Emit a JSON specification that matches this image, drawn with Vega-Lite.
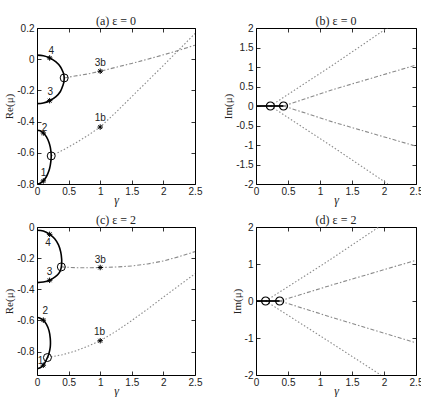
{
  "$schema": "https://vega.github.io/schema/vega-lite/v6.json",
  "padding": {"left": 3, "top": 14, "right": 0, "bottom": 0},
  "background": "white",
  "config": {
    "view": {"stroke": "#000", "strokeWidth": 1},
    "axis": {
      "grid": false, "domain": false, "minExtent": 0, "labelFlush": false,
      "tickSize": -4, "tickColor": "#000", "tickWidth": 0.8,
      "labelFont": "Liberation Sans", "labelFontSize": 10, "labelColor": "#222",
      "labelExpr": "replace(datum.label, '\u2212', '-')",
      "titleFont": "Liberation Serif", "titleFontSize": 12, "titleFontWeight": "normal", "titleColor": "#222"
    },
    "title": {"font": "Liberation Serif", "fontSize": 12, "fontWeight": "normal", "color": "#222", "offset": -5}
  },
  "datasets": {
    "crv": [
      {"p": "a", "s": "a1", "k": "solid", "g": 0, "v": 0.026},
      {"p": "a", "s": "a1", "k": "solid", "g": 0.1, "v": 0.022},
      {"p": "a", "s": "a1", "k": "solid", "g": 0.2, "v": 0.008},
      {"p": "a", "s": "a1", "k": "solid", "g": 0.3, "v": -0.017},
      {"p": "a", "s": "a1", "k": "solid", "g": 0.37, "v": -0.048},
      {"p": "a", "s": "a1", "k": "solid", "g": 0.41, "v": -0.08},
      {"p": "a", "s": "a1", "k": "solid", "g": 0.425, "v": -0.1},
      {"p": "a", "s": "a1", "k": "solid", "g": 0.43, "v": -0.12},
      {"p": "a", "s": "a1", "k": "solid", "g": 0.425, "v": -0.145},
      {"p": "a", "s": "a1", "k": "solid", "g": 0.41, "v": -0.168},
      {"p": "a", "s": "a1", "k": "solid", "g": 0.37, "v": -0.207},
      {"p": "a", "s": "a1", "k": "solid", "g": 0.3, "v": -0.24},
      {"p": "a", "s": "a1", "k": "solid", "g": 0.2, "v": -0.266},
      {"p": "a", "s": "a1", "k": "solid", "g": 0.1, "v": -0.281},
      {"p": "a", "s": "a1", "k": "solid", "g": 0, "v": -0.285},

      {"p": "a", "s": "a2", "k": "solid", "g": 0, "v": -0.455},
      {"p": "a", "s": "a2", "k": "solid", "g": 0.05, "v": -0.459},
      {"p": "a", "s": "a2", "k": "solid", "g": 0.1, "v": -0.473},
      {"p": "a", "s": "a2", "k": "solid", "g": 0.15, "v": -0.498},
      {"p": "a", "s": "a2", "k": "solid", "g": 0.19, "v": -0.534},
      {"p": "a", "s": "a2", "k": "solid", "g": 0.21, "v": -0.564},
      {"p": "a", "s": "a2", "k": "solid", "g": 0.22, "v": -0.59},
      {"p": "a", "s": "a2", "k": "solid", "g": 0.225, "v": -0.62},
      {"p": "a", "s": "a2", "k": "solid", "g": 0.22, "v": -0.652},
      {"p": "a", "s": "a2", "k": "solid", "g": 0.21, "v": -0.68},
      {"p": "a", "s": "a2", "k": "solid", "g": 0.19, "v": -0.714},
      {"p": "a", "s": "a2", "k": "solid", "g": 0.15, "v": -0.752},
      {"p": "a", "s": "a2", "k": "solid", "g": 0.1, "v": -0.78},
      {"p": "a", "s": "a2", "k": "solid", "g": 0.05, "v": -0.795},
      {"p": "a", "s": "a2", "k": "solid", "g": 0, "v": -0.8},

      {"p": "a", "s": "a3", "k": "dashdot", "g": 0.43, "v": -0.12},
      {"p": "a", "s": "a3", "k": "dashdot", "g": 0.6, "v": -0.108},
      {"p": "a", "s": "a3", "k": "dashdot", "g": 0.8, "v": -0.095},
      {"p": "a", "s": "a3", "k": "dashdot", "g": 1, "v": -0.077},
      {"p": "a", "s": "a3", "k": "dashdot", "g": 1.25, "v": -0.052},
      {"p": "a", "s": "a3", "k": "dashdot", "g": 1.5, "v": -0.027},
      {"p": "a", "s": "a3", "k": "dashdot", "g": 1.75, "v": 0.0},
      {"p": "a", "s": "a3", "k": "dashdot", "g": 2, "v": 0.028},
      {"p": "a", "s": "a3", "k": "dashdot", "g": 2.25, "v": 0.058},
      {"p": "a", "s": "a3", "k": "dashdot", "g": 2.5, "v": 0.09},

      {"p": "a", "s": "a4", "k": "dot", "g": 0.225, "v": -0.62},
      {"p": "a", "s": "a4", "k": "dot", "g": 0.4, "v": -0.585},
      {"p": "a", "s": "a4", "k": "dot", "g": 0.6, "v": -0.54},
      {"p": "a", "s": "a4", "k": "dot", "g": 0.8, "v": -0.49},
      {"p": "a", "s": "a4", "k": "dot", "g": 1, "v": -0.435},
      {"p": "a", "s": "a4", "k": "dot", "g": 1.25, "v": -0.34},
      {"p": "a", "s": "a4", "k": "dot", "g": 1.5, "v": -0.24},
      {"p": "a", "s": "a4", "k": "dot", "g": 1.75, "v": -0.14},
      {"p": "a", "s": "a4", "k": "dot", "g": 2, "v": -0.04},
      {"p": "a", "s": "a4", "k": "dot", "g": 2.25, "v": 0.062},
      {"p": "a", "s": "a4", "k": "dot", "g": 2.5, "v": 0.165},

      {"p": "b", "s": "b0", "k": "solid", "g": 0, "v": 0},
      {"p": "b", "s": "b0", "k": "solid", "g": 0.43, "v": 0},
      {"p": "b", "s": "b1", "k": "dot", "g": 0.225, "v": 0},
      {"p": "b", "s": "b1", "k": "dot", "g": 1.2, "v": 1.05},
      {"p": "b", "s": "b1", "k": "dot", "g": 2.05, "v": 2},
      {"p": "b", "s": "b2", "k": "dot", "g": 0.225, "v": 0},
      {"p": "b", "s": "b2", "k": "dot", "g": 1.2, "v": -1.05},
      {"p": "b", "s": "b2", "k": "dot", "g": 2.06, "v": -2},
      {"p": "b", "s": "b3", "k": "dashdot", "g": 0.43, "v": 0},
      {"p": "b", "s": "b3", "k": "dashdot", "g": 1.2, "v": 0.42},
      {"p": "b", "s": "b3", "k": "dashdot", "g": 2.5, "v": 1.05},
      {"p": "b", "s": "b4", "k": "dashdot", "g": 0.43, "v": 0},
      {"p": "b", "s": "b4", "k": "dashdot", "g": 1.2, "v": -0.41},
      {"p": "b", "s": "b4", "k": "dashdot", "g": 2.5, "v": -1.03},

      {"p": "c", "s": "c1", "k": "solid", "g": 0, "v": -0.021},
      {"p": "c", "s": "c1", "k": "solid", "g": 0.1, "v": -0.026},
      {"p": "c", "s": "c1", "k": "solid", "g": 0.2, "v": -0.047},
      {"p": "c", "s": "c1", "k": "solid", "g": 0.28, "v": -0.075},
      {"p": "c", "s": "c1", "k": "solid", "g": 0.34, "v": -0.115},
      {"p": "c", "s": "c1", "k": "solid", "g": 0.375, "v": -0.16},
      {"p": "c", "s": "c1", "k": "solid", "g": 0.39, "v": -0.205},
      {"p": "c", "s": "c1", "k": "solid", "g": 0.39, "v": -0.235},
      {"p": "c", "s": "c1", "k": "solid", "g": 0.385, "v": -0.256},
      {"p": "c", "s": "c1", "k": "solid", "g": 0.37, "v": -0.28},
      {"p": "c", "s": "c1", "k": "solid", "g": 0.33, "v": -0.305},
      {"p": "c", "s": "c1", "k": "solid", "g": 0.28, "v": -0.322},
      {"p": "c", "s": "c1", "k": "solid", "g": 0.2, "v": -0.342},
      {"p": "c", "s": "c1", "k": "solid", "g": 0.1, "v": -0.353},
      {"p": "c", "s": "c1", "k": "solid", "g": 0, "v": -0.357},

      {"p": "c", "s": "c2", "k": "solid", "g": 0, "v": -0.581},
      {"p": "c", "s": "c2", "k": "solid", "g": 0.05, "v": -0.585},
      {"p": "c", "s": "c2", "k": "solid", "g": 0.1, "v": -0.598},
      {"p": "c", "s": "c2", "k": "solid", "g": 0.15, "v": -0.625},
      {"p": "c", "s": "c2", "k": "solid", "g": 0.19, "v": -0.665},
      {"p": "c", "s": "c2", "k": "solid", "g": 0.21, "v": -0.715},
      {"p": "c", "s": "c2", "k": "solid", "g": 0.21, "v": -0.77},
      {"p": "c", "s": "c2", "k": "solid", "g": 0.19, "v": -0.81},
      {"p": "c", "s": "c2", "k": "solid", "g": 0.165, "v": -0.838},
      {"p": "c", "s": "c2", "k": "solid", "g": 0.13, "v": -0.868},
      {"p": "c", "s": "c2", "k": "solid", "g": 0.1, "v": -0.887},
      {"p": "c", "s": "c2", "k": "solid", "g": 0.05, "v": -0.903},
      {"p": "c", "s": "c2", "k": "solid", "g": 0, "v": -0.91},

      {"p": "c", "s": "c3", "k": "dashdot", "g": 0.385, "v": -0.256},
      {"p": "c", "s": "c3", "k": "dashdot", "g": 0.6, "v": -0.261},
      {"p": "c", "s": "c3", "k": "dashdot", "g": 0.8, "v": -0.262},
      {"p": "c", "s": "c3", "k": "dashdot", "g": 1, "v": -0.26},
      {"p": "c", "s": "c3", "k": "dashdot", "g": 1.25, "v": -0.257},
      {"p": "c", "s": "c3", "k": "dashdot", "g": 1.5, "v": -0.25},
      {"p": "c", "s": "c3", "k": "dashdot", "g": 1.75, "v": -0.237},
      {"p": "c", "s": "c3", "k": "dashdot", "g": 2, "v": -0.218},
      {"p": "c", "s": "c3", "k": "dashdot", "g": 2.25, "v": -0.19},
      {"p": "c", "s": "c3", "k": "dashdot", "g": 2.5, "v": -0.158},

      {"p": "c", "s": "c4", "k": "dot", "g": 0.165, "v": -0.838},
      {"p": "c", "s": "c4", "k": "dot", "g": 0.4, "v": -0.82},
      {"p": "c", "s": "c4", "k": "dot", "g": 0.6, "v": -0.797},
      {"p": "c", "s": "c4", "k": "dot", "g": 0.8, "v": -0.766},
      {"p": "c", "s": "c4", "k": "dot", "g": 1, "v": -0.73},
      {"p": "c", "s": "c4", "k": "dot", "g": 1.25, "v": -0.67},
      {"p": "c", "s": "c4", "k": "dot", "g": 1.5, "v": -0.6},
      {"p": "c", "s": "c4", "k": "dot", "g": 1.75, "v": -0.527},
      {"p": "c", "s": "c4", "k": "dot", "g": 2, "v": -0.45},
      {"p": "c", "s": "c4", "k": "dot", "g": 2.25, "v": -0.375},
      {"p": "c", "s": "c4", "k": "dot", "g": 2.5, "v": -0.3},

      {"p": "d", "s": "d0", "k": "solid", "g": 0, "v": 0},
      {"p": "d", "s": "d0", "k": "solid", "g": 0.37, "v": 0},
      {"p": "d", "s": "d1", "k": "dot", "g": 0.15, "v": 0},
      {"p": "d", "s": "d1", "k": "dot", "g": 1.1, "v": 1.05},
      {"p": "d", "s": "d1", "k": "dot", "g": 1.92, "v": 2},
      {"p": "d", "s": "d2", "k": "dot", "g": 0.15, "v": 0},
      {"p": "d", "s": "d2", "k": "dot", "g": 1.1, "v": -1.05},
      {"p": "d", "s": "d2", "k": "dot", "g": 1.95, "v": -2},
      {"p": "d", "s": "d3", "k": "dashdot", "g": 0.37, "v": 0},
      {"p": "d", "s": "d3", "k": "dashdot", "g": 1.2, "v": 0.44},
      {"p": "d", "s": "d3", "k": "dashdot", "g": 2.5, "v": 1.1},
      {"p": "d", "s": "d4", "k": "dashdot", "g": 0.37, "v": 0},
      {"p": "d", "s": "d4", "k": "dashdot", "g": 1.2, "v": -0.45},
      {"p": "d", "s": "d4", "k": "dashdot", "g": 2.5, "v": -1.13}
    ],
    "pts": [
      {"p": "a", "t": "ep", "g": 0.43, "v": -0.12},
      {"p": "a", "t": "ep", "g": 0.225, "v": -0.62},
      {"p": "a", "t": "st", "g": 0.2, "v": 0.008},
      {"p": "a", "t": "st", "g": 0.2, "v": -0.266},
      {"p": "a", "t": "st", "g": 0.1, "v": -0.473},
      {"p": "a", "t": "st", "g": 0.1, "v": -0.78},
      {"p": "a", "t": "st", "g": 1, "v": -0.077},
      {"p": "a", "t": "st", "g": 1, "v": -0.435},
      {"p": "b", "t": "ep", "g": 0.225, "v": 0},
      {"p": "b", "t": "ep", "g": 0.43, "v": 0},
      {"p": "c", "t": "ep", "g": 0.385, "v": -0.256},
      {"p": "c", "t": "ep", "g": 0.165, "v": -0.838},
      {"p": "c", "t": "st", "g": 0.2, "v": -0.047},
      {"p": "c", "t": "st", "g": 0.2, "v": -0.342},
      {"p": "c", "t": "st", "g": 0.1, "v": -0.598},
      {"p": "c", "t": "st", "g": 0.1, "v": -0.887},
      {"p": "c", "t": "st", "g": 1, "v": -0.26},
      {"p": "c", "t": "st", "g": 1, "v": -0.73},
      {"p": "d", "t": "ep", "g": 0.15, "v": 0},
      {"p": "d", "t": "ep", "g": 0.37, "v": 0}
    ],
    "lbl": [
      {"p": "a", "txt": "4", "g": 0.225, "v": 0.052},
      {"p": "a", "txt": "3", "g": 0.21, "v": -0.21},
      {"p": "a", "txt": "2", "g": 0.12, "v": -0.44},
      {"p": "a", "txt": "1", "g": 0.105, "v": -0.727},
      {"p": "a", "txt": "3b", "g": 1.0, "v": -0.022},
      {"p": "a", "txt": "1b", "g": 1.0, "v": -0.377},
      {"p": "c", "txt": "4", "g": 0.175, "v": -0.105},
      {"p": "c", "txt": "3", "g": 0.2, "v": -0.286},
      {"p": "c", "txt": "2", "g": 0.132, "v": -0.538},
      {"p": "c", "txt": "1", "g": 0.055, "v": -0.863},
      {"p": "c", "txt": "3b", "g": 1.0, "v": -0.214},
      {"p": "c", "txt": "1b", "g": 0.99, "v": -0.677}
    ]
  },
  "columns": 2,
  "spacing": {"row": 43, "column": 61},
  "bounds": "flush",
  "concat": [
    {
      "width": 158, "height": 156,
      "title": "(a) ε = 0",
      "resolve": {"axis": {"x": "independent", "y": "independent"}},
      "layer": [
        {
          "data": {"name": "crv"},
          "transform": [{"filter": "datum.p === 'a' && datum.k !== 'solid'"}],
          "mark": {"type": "line", "clip": true, "color": "#8a8a8a", "strokeWidth": 1.1},
          "encoding": {
            "x": {"field": "g", "type": "quantitative", "title": "γ",
                  "scale": {"domain": [0, 2.5], "nice": false},
                  "axis": {"orient": "bottom", "values": [0, 0.5, 1, 1.5, 2, 2.5], "format": "~g", "labelPadding": 6, "titlePadding": -2, "titleFontStyle": "italic"}},
            "y": {"field": "v", "type": "quantitative", "title": "Re(μ)",
                  "scale": {"domain": [-0.8, 0.2], "nice": false, "zero": false},
                  "axis": {"orient": "left", "values": [-0.8, -0.6, -0.4, -0.2, 0, 0.2], "format": "~g", "labelPadding": 7, "titlePadding": 2, "titleFontSize": 11}},
            "detail": {"field": "s"},
            "strokeDash": {"field": "k", "type": "nominal", "legend": null,
                           "scale": {"domain": ["dot", "dashdot"], "range": [[1.5, 2], [4, 2, 1.5, 2]]}},
            "order": {"value": null}
          }
        },
        {
          "data": {"name": "crv"},
          "transform": [{"filter": "datum.p === 'a' && datum.k === 'solid'"}],
          "mark": {"type": "line", "clip": true, "color": "#000", "strokeWidth": 1.6, "interpolate": "catmull-rom"},
          "encoding": {
            "x": {"field": "g", "type": "quantitative", "scale": {"domain": [0, 2.5], "nice": false},
                  "axis": {"orient": "top", "values": [0, 0.5, 1, 1.5, 2, 2.5], "labels": false, "labelPadding": 0, "title": null}},
            "y": {"field": "v", "type": "quantitative", "scale": {"domain": [-0.8, 0.2], "nice": false, "zero": false},
                  "axis": {"orient": "right", "values": [-0.8, -0.6, -0.4, -0.2, 0, 0.2], "labels": false, "labelPadding": 0, "title": null}},
            "detail": {"field": "s"},
            "order": {"value": null}
          }
        },
        {
          "data": {"name": "pts"},
          "transform": [{"filter": "datum.p === 'a' && datum.t === 'ep'"}],
          "mark": {"type": "point", "shape": "circle", "size": 64, "filled": false, "stroke": "#000", "strokeWidth": 1, "opacity": 1},
          "encoding": {
            "x": {"field": "g", "type": "quantitative", "scale": {"domain": [0, 2.5], "nice": false}, "axis": null},
            "y": {"field": "v", "type": "quantitative", "scale": {"domain": [-0.8, 0.2], "nice": false, "zero": false}, "axis": null}
          }
        },
        {
          "data": {"name": "pts"},
          "transform": [{"filter": "datum.p === 'a' && datum.t === 'st'"}],
          "mark": {"type": "point", "shape": "M-1,0L1,0M0,-1L0,1M-0.7,-0.7L0.7,0.7M-0.7,0.7L0.7,-0.7", "size": 30, "filled": false, "stroke": "#000", "strokeWidth": 1, "opacity": 1},
          "encoding": {
            "x": {"field": "g", "type": "quantitative", "scale": {"domain": [0, 2.5], "nice": false}, "axis": null},
            "y": {"field": "v", "type": "quantitative", "scale": {"domain": [-0.8, 0.2], "nice": false, "zero": false}, "axis": null}
          }
        },
        {
          "data": {"name": "lbl"},
          "transform": [{"filter": "datum.p === 'a'"}],
          "mark": {"type": "text", "font": "Liberation Sans", "fontSize": 10, "color": "#222", "baseline": "middle", "align": "center"},
          "encoding": {
            "x": {"field": "g", "type": "quantitative", "scale": {"domain": [0, 2.5], "nice": false}, "axis": null},
            "y": {"field": "v", "type": "quantitative", "scale": {"domain": [-0.8, 0.2], "nice": false, "zero": false}, "axis": null},
            "text": {"field": "txt"}
          }
        }
      ]
    },
    {
      "width": 160, "height": 156,
      "title": "(b) ε = 0",
      "resolve": {"axis": {"x": "independent", "y": "independent"}},
      "layer": [
        {
          "data": {"name": "crv"},
          "transform": [{"filter": "datum.p === 'b' && datum.k !== 'solid'"}],
          "mark": {"type": "line", "clip": true, "color": "#8a8a8a", "strokeWidth": 1.1},
          "encoding": {
            "x": {"field": "g", "type": "quantitative", "title": "γ",
                  "scale": {"domain": [0, 2.5], "nice": false},
                  "axis": {"orient": "bottom", "values": [0, 0.5, 1, 1.5, 2, 2.5], "format": "~g", "labelPadding": 6, "titlePadding": -2, "titleFontStyle": "italic"}},
            "y": {"field": "v", "type": "quantitative", "title": "Im(μ)",
                  "scale": {"domain": [-2, 2], "nice": false},
                  "axis": {"orient": "left", "values": [-2, -1.5, -1, -0.5, 0, 0.5, 1, 1.5, 2], "format": "~g", "labelPadding": 7, "titlePadding": 2, "titleFontSize": 11}},
            "detail": {"field": "s"},
            "strokeDash": {"field": "k", "type": "nominal", "legend": null,
                           "scale": {"domain": ["dot", "dashdot"], "range": [[1.5, 2], [4, 2, 1.5, 2]]}},
            "order": {"value": null}
          }
        },
        {
          "data": {"name": "crv"},
          "transform": [{"filter": "datum.p === 'b' && datum.k === 'solid'"}],
          "mark": {"type": "line", "clip": true, "color": "#000", "strokeWidth": 1.8},
          "encoding": {
            "x": {"field": "g", "type": "quantitative", "scale": {"domain": [0, 2.5], "nice": false},
                  "axis": {"orient": "top", "values": [0, 0.5, 1, 1.5, 2, 2.5], "labels": false, "labelPadding": 0, "title": null}},
            "y": {"field": "v", "type": "quantitative", "scale": {"domain": [-2, 2], "nice": false},
                  "axis": {"orient": "right", "values": [-2, -1.5, -1, -0.5, 0, 0.5, 1, 1.5, 2], "labels": false, "labelPadding": 0, "title": null}},
            "detail": {"field": "s"},
            "order": {"value": null}
          }
        },
        {
          "data": {"name": "pts"},
          "transform": [{"filter": "datum.p === 'b' && datum.t === 'ep'"}],
          "mark": {"type": "point", "shape": "circle", "size": 64, "filled": false, "stroke": "#000", "strokeWidth": 1.2, "opacity": 1},
          "encoding": {
            "x": {"field": "g", "type": "quantitative", "scale": {"domain": [0, 2.5], "nice": false}, "axis": null},
            "y": {"field": "v", "type": "quantitative", "scale": {"domain": [-2, 2], "nice": false}, "axis": null}
          }
        }
      ]
    },
    {
      "width": 158, "height": 148,
      "title": "(c) ε = 2",
      "resolve": {"axis": {"x": "independent", "y": "independent"}},
      "layer": [
        {
          "data": {"name": "crv"},
          "transform": [{"filter": "datum.p === 'c' && datum.k !== 'solid'"}],
          "mark": {"type": "line", "clip": true, "color": "#8a8a8a", "strokeWidth": 1.1},
          "encoding": {
            "x": {"field": "g", "type": "quantitative", "title": "γ",
                  "scale": {"domain": [0, 2.5], "nice": false},
                  "axis": {"orient": "bottom", "values": [0, 0.5, 1, 1.5, 2, 2.5], "format": "~g", "labelPadding": 6, "titlePadding": -2, "titleFontStyle": "italic"}},
            "y": {"field": "v", "type": "quantitative", "title": "Re(μ)",
                  "scale": {"domain": [-0.95, 0], "nice": false, "zero": false},
                  "axis": {"orient": "left", "values": [-0.8, -0.6, -0.4, -0.2, 0], "format": "~g", "labelPadding": 7, "titlePadding": 2, "titleFontSize": 11}},
            "detail": {"field": "s"},
            "strokeDash": {"field": "k", "type": "nominal", "legend": null,
                           "scale": {"domain": ["dot", "dashdot"], "range": [[1.5, 2], [4, 2, 1.5, 2]]}},
            "order": {"value": null}
          }
        },
        {
          "data": {"name": "crv"},
          "transform": [{"filter": "datum.p === 'c' && datum.k === 'solid'"}],
          "mark": {"type": "line", "clip": true, "color": "#000", "strokeWidth": 1.6, "interpolate": "catmull-rom"},
          "encoding": {
            "x": {"field": "g", "type": "quantitative", "scale": {"domain": [0, 2.5], "nice": false},
                  "axis": {"orient": "top", "values": [0, 0.5, 1, 1.5, 2, 2.5], "labels": false, "labelPadding": 0, "title": null}},
            "y": {"field": "v", "type": "quantitative", "scale": {"domain": [-0.95, 0], "nice": false, "zero": false},
                  "axis": {"orient": "right", "values": [-0.8, -0.6, -0.4, -0.2, 0], "labels": false, "labelPadding": 0, "title": null}},
            "detail": {"field": "s"},
            "order": {"value": null}
          }
        },
        {
          "data": {"name": "pts"},
          "transform": [{"filter": "datum.p === 'c' && datum.t === 'ep'"}],
          "mark": {"type": "point", "shape": "circle", "size": 64, "filled": false, "stroke": "#000", "strokeWidth": 1, "opacity": 1},
          "encoding": {
            "x": {"field": "g", "type": "quantitative", "scale": {"domain": [0, 2.5], "nice": false}, "axis": null},
            "y": {"field": "v", "type": "quantitative", "scale": {"domain": [-0.95, 0], "nice": false, "zero": false}, "axis": null}
          }
        },
        {
          "data": {"name": "pts"},
          "transform": [{"filter": "datum.p === 'c' && datum.t === 'st'"}],
          "mark": {"type": "point", "shape": "M-1,0L1,0M0,-1L0,1M-0.7,-0.7L0.7,0.7M-0.7,0.7L0.7,-0.7", "size": 30, "filled": false, "stroke": "#000", "strokeWidth": 1, "opacity": 1},
          "encoding": {
            "x": {"field": "g", "type": "quantitative", "scale": {"domain": [0, 2.5], "nice": false}, "axis": null},
            "y": {"field": "v", "type": "quantitative", "scale": {"domain": [-0.95, 0], "nice": false, "zero": false}, "axis": null}
          }
        },
        {
          "data": {"name": "lbl"},
          "transform": [{"filter": "datum.p === 'c'"}],
          "mark": {"type": "text", "font": "Liberation Sans", "fontSize": 10, "color": "#222", "baseline": "middle", "align": "center"},
          "encoding": {
            "x": {"field": "g", "type": "quantitative", "scale": {"domain": [0, 2.5], "nice": false}, "axis": null},
            "y": {"field": "v", "type": "quantitative", "scale": {"domain": [-0.95, 0], "nice": false, "zero": false}, "axis": null},
            "text": {"field": "txt"}
          }
        }
      ]
    },
    {
      "width": 160, "height": 148,
      "title": "(d) ε = 2",
      "resolve": {"axis": {"x": "independent", "y": "independent"}},
      "layer": [
        {
          "data": {"name": "crv"},
          "transform": [{"filter": "datum.p === 'd' && datum.k !== 'solid'"}],
          "mark": {"type": "line", "clip": true, "color": "#8a8a8a", "strokeWidth": 1.1},
          "encoding": {
            "x": {"field": "g", "type": "quantitative", "title": "γ",
                  "scale": {"domain": [0, 2.5], "nice": false},
                  "axis": {"orient": "bottom", "values": [0, 0.5, 1, 1.5, 2, 2.5], "format": "~g", "labelPadding": 6, "titlePadding": -2, "titleFontStyle": "italic"}},
            "y": {"field": "v", "type": "quantitative", "title": "Im(μ)",
                  "scale": {"domain": [-2, 2], "nice": false},
                  "axis": {"orient": "left", "values": [-2, -1, 0, 1, 2], "format": "~g", "labelPadding": 7, "titlePadding": 2, "titleFontSize": 11}},
            "detail": {"field": "s"},
            "strokeDash": {"field": "k", "type": "nominal", "legend": null,
                           "scale": {"domain": ["dot", "dashdot"], "range": [[1.5, 2], [4, 2, 1.5, 2]]}},
            "order": {"value": null}
          }
        },
        {
          "data": {"name": "crv"},
          "transform": [{"filter": "datum.p === 'd' && datum.k === 'solid'"}],
          "mark": {"type": "line", "clip": true, "color": "#000", "strokeWidth": 1.8},
          "encoding": {
            "x": {"field": "g", "type": "quantitative", "scale": {"domain": [0, 2.5], "nice": false},
                  "axis": {"orient": "top", "values": [0, 0.5, 1, 1.5, 2, 2.5], "labels": false, "labelPadding": 0, "title": null}},
            "y": {"field": "v", "type": "quantitative", "scale": {"domain": [-2, 2], "nice": false},
                  "axis": {"orient": "right", "values": [-2, -1, 0, 1, 2], "labels": false, "labelPadding": 0, "title": null}},
            "detail": {"field": "s"},
            "order": {"value": null}
          }
        },
        {
          "data": {"name": "pts"},
          "transform": [{"filter": "datum.p === 'd' && datum.t === 'ep'"}],
          "mark": {"type": "point", "shape": "circle", "size": 64, "filled": false, "stroke": "#000", "strokeWidth": 1.2, "opacity": 1},
          "encoding": {
            "x": {"field": "g", "type": "quantitative", "scale": {"domain": [0, 2.5], "nice": false}, "axis": null},
            "y": {"field": "v", "type": "quantitative", "scale": {"domain": [-2, 2], "nice": false}, "axis": null}
          }
        }
      ]
    }
  ]
}
